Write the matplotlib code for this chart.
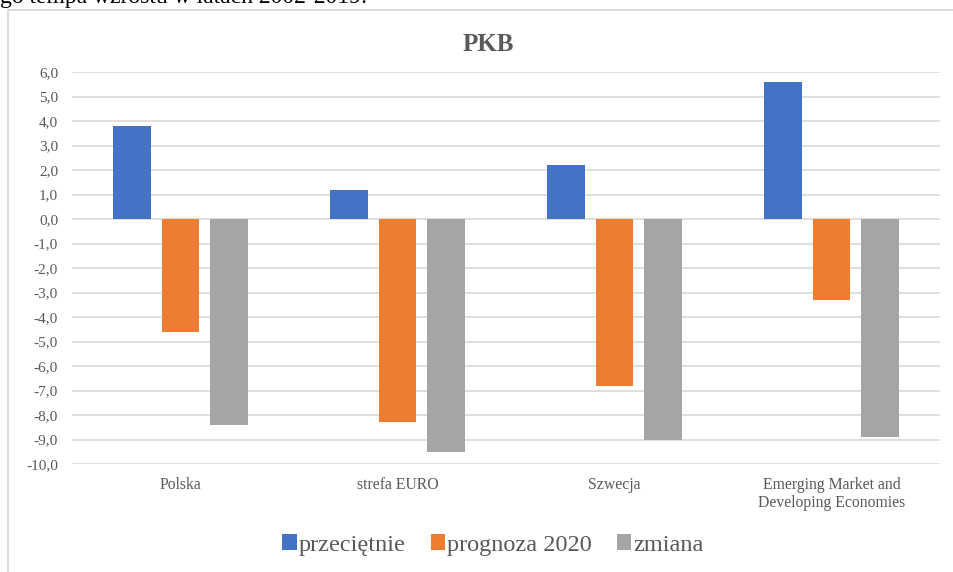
import matplotlib
matplotlib.use("Agg")
from matplotlib import pyplot as plt
from matplotlib.patches import Rectangle
import numpy as np

plt.rcParams['font.family'] = ['Liberation Serif', 'DejaVu Serif']

# data
categories = ["Polska", "strefa EURO", "Szwecja",
              "Emerging Market and\nDeveloping Economies"]
przecietnie = [3.8, 1.2, 2.2, 5.6]
prognoza_2020 = [-4.6, -8.3, -6.8, -3.3]
zmiana = [-8.4, -9.5, -9.0, -8.9]
series_names = ["przeciętnie", "prognoza 2020", "zmiana"]
colors = ["#4472c4", "#ed7d31", "#a5a5a5"]
yticks = np.arange(-10, 7, 1)

W, H = 954, 572
fig = plt.figure(figsize=(W / 100, H / 100), dpi=100)

# text of the document above the chart (cut off at top)
fig.text(0, 1 - 2.5 / H, "go tempa wzrostu w latach 2002-2019:", fontsize=17,
         color="black", va="baseline", ha="left")

# chart frame
fig.patches.append(Rectangle((8 / W, -0.1), 1.2, (H - 10) / H + 0.1,
                             transform=fig.transFigure, fill=False,
                             edgecolor="#d9d9d9", linewidth=1.3))

ax = fig.add_axes([72 / W, (H - 464) / H, (940 - 72) / W, (464 - 72) / H])

x = np.arange(len(categories))
width = 0.175
step = 0.222
for i, (vals, name, c) in enumerate(zip([przecietnie, prognoza_2020, zmiana],
                                        series_names, colors)):
    ax.bar(x + (i - 1) * step, vals, width, color=c, label=name, zorder=3)

ax.set_xlim(-0.5, len(categories) - 0.5)
ax.set_ylim(-10, 6)
ax.set_yticks(yticks)
ax.set_yticklabels([f"{v:.1f}".replace(".", ",") for v in yticks],
                   fontsize=11, color="#595959")
ax.set_xticks(x)
ax.set_xticklabels(categories, fontsize=11.3, color="#595959", linespacing=1.15)
ax.tick_params(axis="both", length=0)
ax.tick_params(axis="y", pad=10)
ax.tick_params(axis="x", pad=9.6)
ax.grid(axis="y", color="#d9d9d9", linewidth=1.2, zorder=0)
for s in ax.spines.values():
    s.set_visible(False)

fig.text(488 / W, 1 - 44.5 / H, "PKB", fontsize=18,
         fontweight="bold", color="#595959", ha="center", va="center")

leg = fig.legend(loc="center", bbox_to_anchor=(493 / W, 1 - 545 / H), ncol=3,
                 frameon=False, fontsize=17.5, handlelength=0.58,
                 handleheight=0.6, handletextpad=0.08, columnspacing=1.05)
for t in leg.get_texts():
    t.set_color("#595959")

fig.savefig("out.png", dpi=100)
